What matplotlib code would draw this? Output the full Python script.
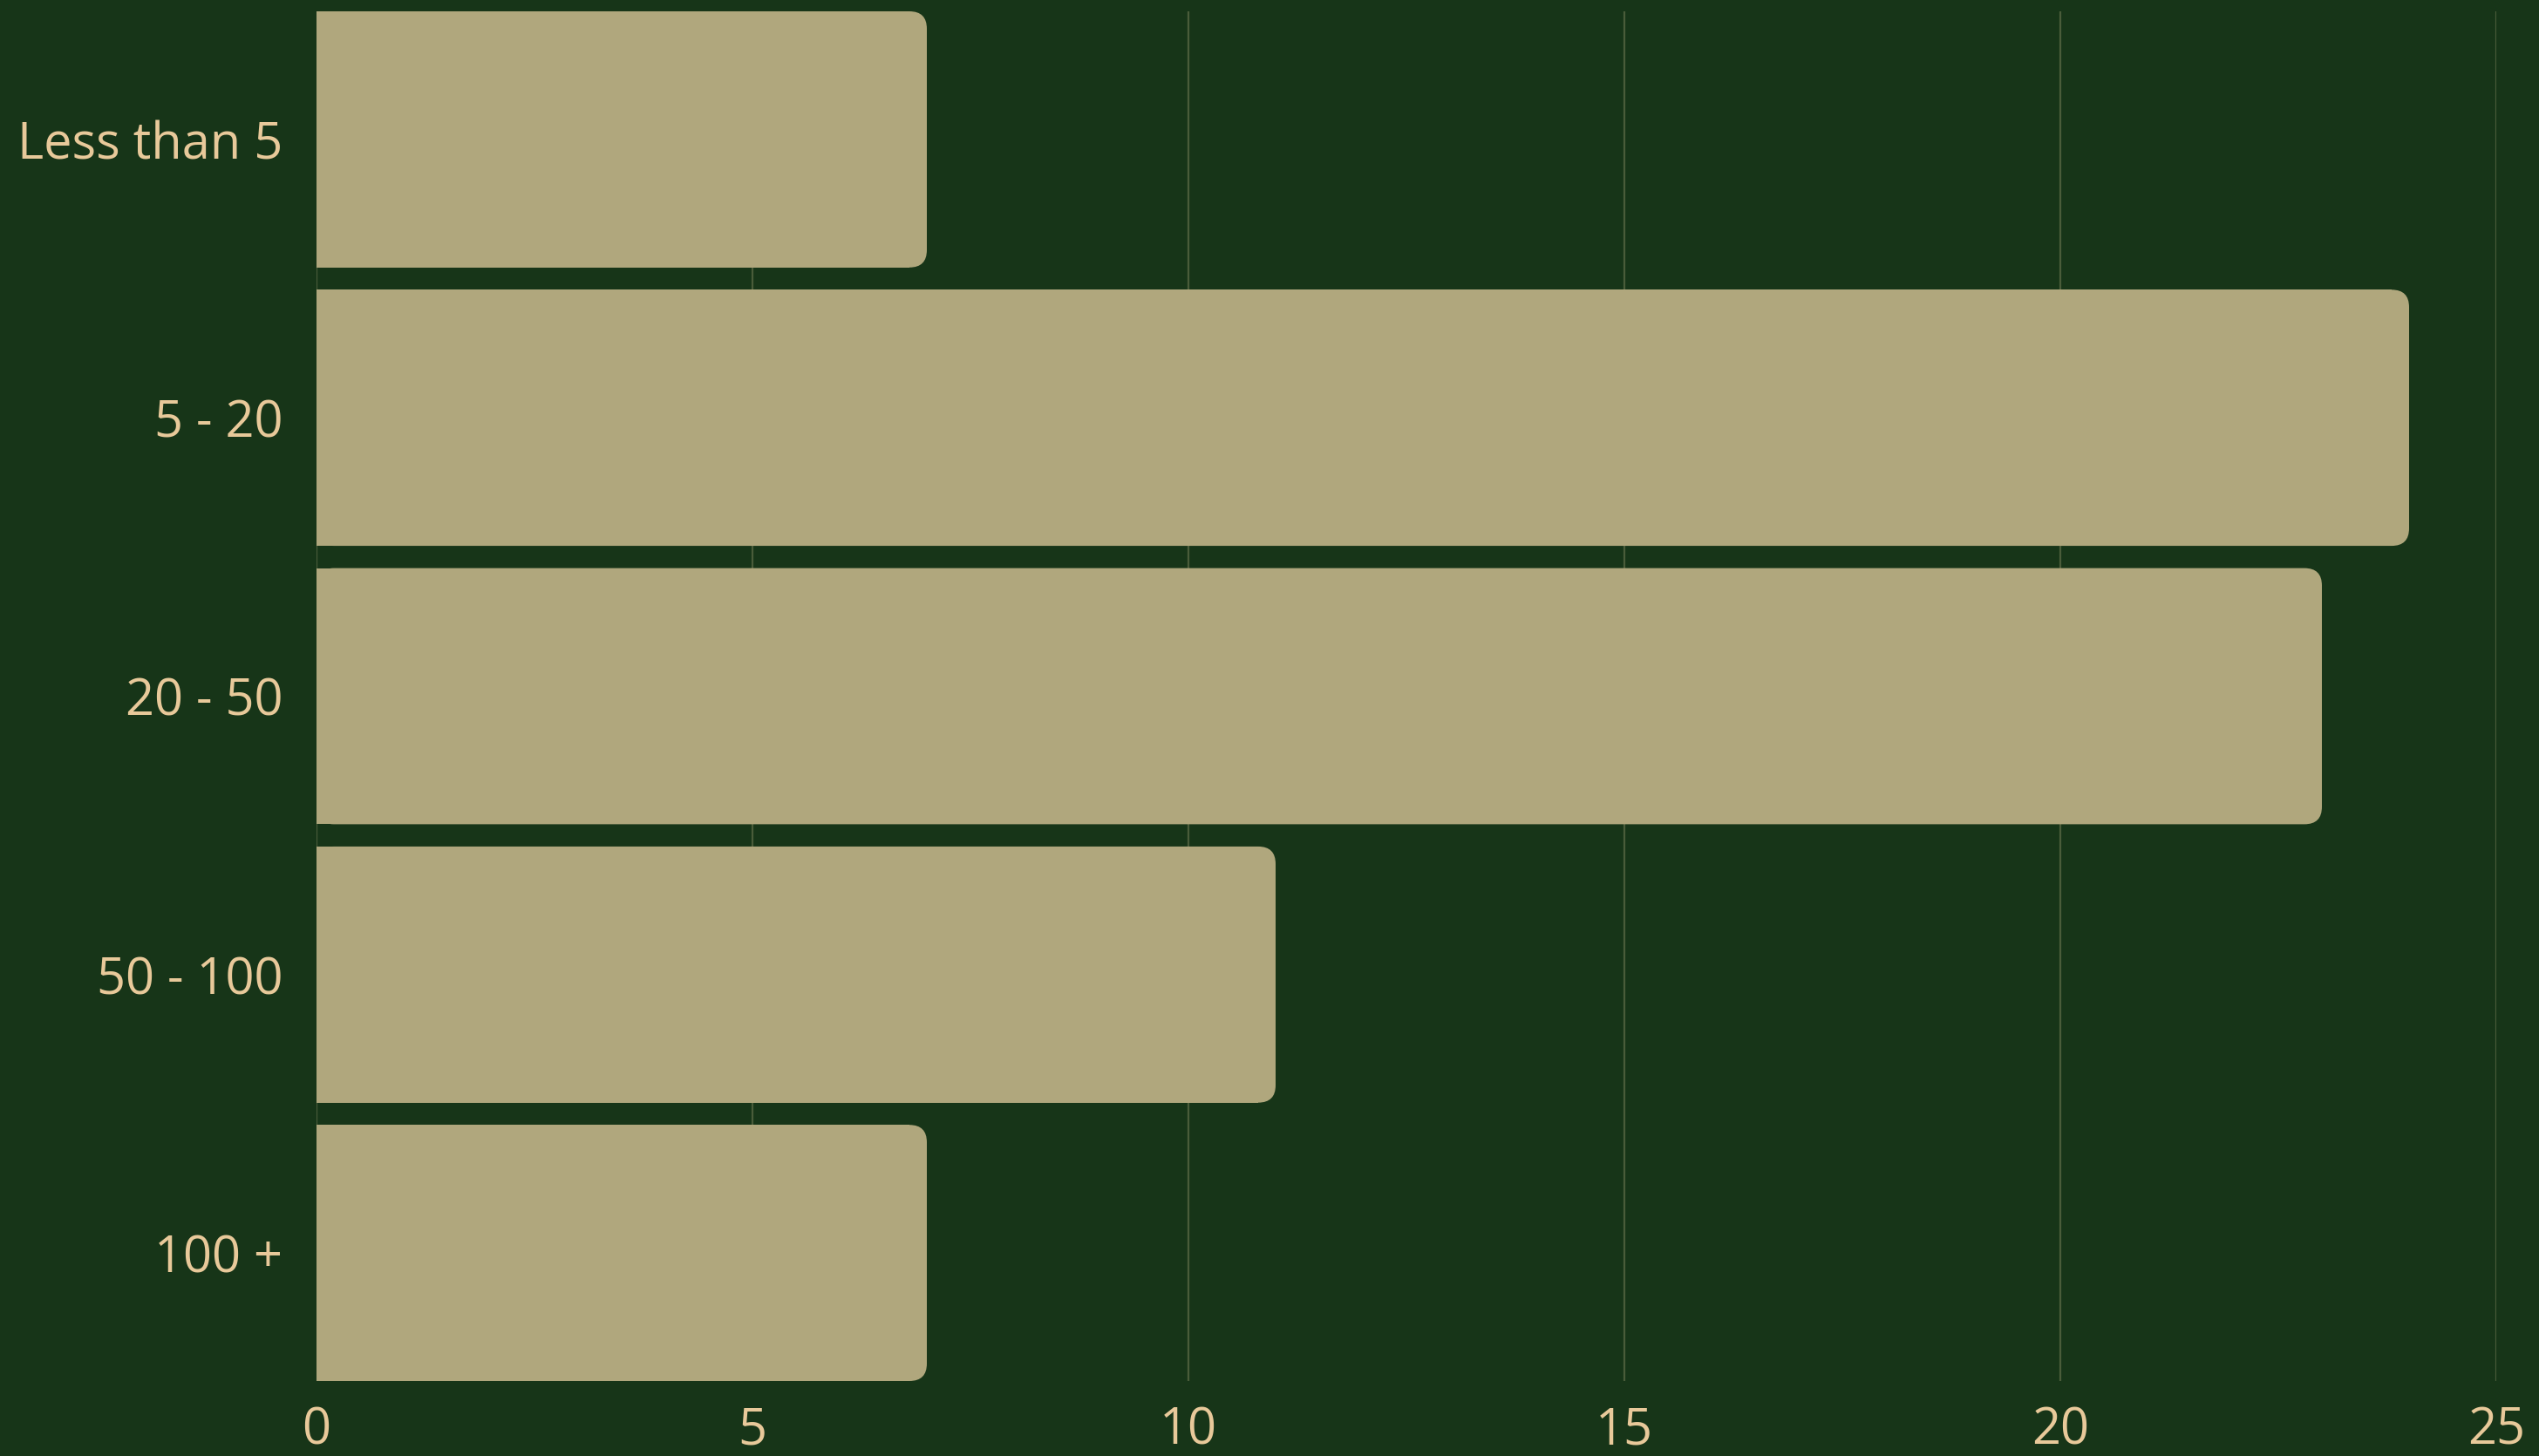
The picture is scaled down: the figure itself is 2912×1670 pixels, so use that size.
#!/usr/bin/env python3
import matplotlib
matplotlib.use('Agg')
import matplotlib.pyplot as plt
from matplotlib.patches import FancyBboxPatch


categories = ['Less than 5', '5 - 20', '20 - 50', '50 - 100', '100 +']
counts = [7, 24, 23, 11, 7]
x_ticks = [0, 5, 10, 15, 20, 25]

BG = '#173518'
BAR = '#b0a77d'
TEXT = '#e8c99a'
GRID = '#4a5c3a'


def rounded_right_bar(ax, y, value, height, radius_px, x_per_px, y_per_px):
	# bar with square left side and rounded right corners
	rx = radius_px * x_per_px
	ax.barh(y, max(value - rx, 0), height=height, color=BAR, zorder=2, linewidth=0)
	box = FancyBboxPatch(
		(0, y - height / 2), value, height,
		boxstyle=f"round,pad=0,rounding_size={rx}",
		mutation_aspect=y_per_px / x_per_px,
		facecolor=BAR, edgecolor='none', zorder=2,
	)
	ax.add_patch(box)


def main():
	plt.rcParams['font.family'] = ['Open Sans', 'DejaVu Sans']

	W, H, dpi = 2912, 1670, 200
	fig = plt.figure(figsize=(W / dpi, H / dpi), dpi=dpi, facecolor=BG)
	left, right, bottom, top = 363 / W, 2863 / W, 1 - 1584 / H, 1 - 13 / H
	ax = fig.add_axes([left, bottom, right - left, top - bottom], facecolor=BG)

	bar_h = 0.92
	n = len(categories)
	ax.set_xlim(0, 25)
	ax.set_ylim(n - 1 + bar_h / 2, -bar_h / 2)

	ax_w_px = (right - left) * W
	ax_h_px = (top - bottom) * H
	x_per_px = 25 / ax_w_px
	y_per_px = (n - 1 + bar_h) / ax_h_px

	for i, v in enumerate(counts):
		rounded_right_bar(ax, i, v, bar_h, 20, x_per_px, y_per_px)

	ax.set_yticks(range(n))
	ax.set_yticklabels(categories)
	ax.set_xticks(x_ticks)
	ax.tick_params(axis='both', length=0, colors=TEXT, labelsize=20.8)
	ax.tick_params(axis='y', pad=14)
	ax.tick_params(axis='x', pad=10)

	ax.grid(True, axis='x', color=GRID, linewidth=0.8, zorder=0)
	ax.set_axisbelow(True)
	for s in ax.spines.values():
		s.set_visible(False)

	fig.savefig('out.png', dpi=dpi, facecolor=BG)
	plt.close(fig)


if __name__ == '__main__':
	main()
